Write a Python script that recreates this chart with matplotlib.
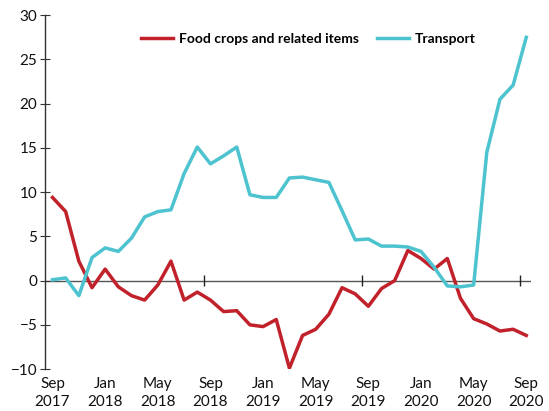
import matplotlib
matplotlib.use('Agg')
import matplotlib.pyplot as plt
import numpy as np

plt.rcParams['font.family'] = ['Lato', 'DejaVu Sans']

COLOR_FOOD = '#c1212b'
COLOR_TRANSPORT = '#4cc3cf'
COLOR_AXIS = '#333333'

# Monthly, Sep 2017 .. Sep 2020 (% change)
food_crops = [9.4, 7.8, 2.2, -0.8, 1.3, -0.7, -1.7, -2.2, -0.5, 2.2,
              -2.2, -1.3, -2.2, -3.5, -3.4, -5.0, -5.2, -4.4, -9.9, -6.2,
              -5.5, -3.8, -0.8, -1.5, -2.9, -0.9, 0.0, 3.4, 2.5, 1.3,
              2.5, -2.0, -4.3, -4.9, -5.7, -5.5, -6.2]
transport = [0.1, 0.3, -1.7, 2.6, 3.7, 3.3, 4.8, 7.2, 7.8, 8.0,
             12.1, 15.1, 13.2, 14.1, 15.1, 9.7, 9.4, 9.4, 11.6, 11.7,
             11.4, 11.1, 7.9, 4.6, 4.7, 3.9, 3.9, 3.8, 3.3, 1.5,
             -0.6, -0.7, -0.5, 14.5, 20.5, 22.1, 27.5]
tick_labels = ['Sep\n2017', 'Jan\n2018', 'May\n2018', 'Sep\n2018', 'Jan\n2019',
               'May\n2019', 'Sep\n2019', 'Jan\n2020', 'May\n2020', 'Sep\n2020']
year_marks = [11.5, 23.5, 35.5]

x = np.arange(len(food_crops))

fig = plt.figure(figsize=(5.49, 4.11), dpi=100)
ax = fig.add_axes([0.082, 0.102, 0.885, 0.861])

ax.axhline(0, color='#555555', linewidth=1.0, zorder=1)
ax.vlines(year_marks, -0.6, 0.6, color='#222222', linewidth=1.0, zorder=1)

ax.plot(x, food_crops, color=COLOR_FOOD, linewidth=2.5,
        label='Food crops and related items', zorder=3)
ax.plot(x, transport, color=COLOR_TRANSPORT, linewidth=2.5,
        label='Transport', zorder=3)

ax.set_xlim(-0.57, 36.35)
ax.set_ylim(-10, 30)
ax.set_yticks(np.arange(-10, 31, 5))
ax.set_xticks(x[::4])
ax.set_xticklabels(tick_labels, fontsize=11, color='#111111', linespacing=1.3)

for s in ['top', 'right', 'bottom']:
    ax.spines[s].set_visible(False)
ax.spines['left'].set_color(COLOR_AXIS)
ax.spines['left'].set_linewidth(1.0)
ax.tick_params(axis='y', direction='inout', length=7, color=COLOR_AXIS,
               labelsize=11, labelcolor='#111111', pad=2)
ax.tick_params(axis='x', length=0, pad=6)

leg = ax.legend(loc='upper center', bbox_to_anchor=(0.542, 0.985), ncol=2,
                frameon=False, handlelength=2.3, columnspacing=1.3,
                handletextpad=0.4, prop={'weight': 'bold', 'size': 10})

fig.savefig('out.png', dpi=100)
